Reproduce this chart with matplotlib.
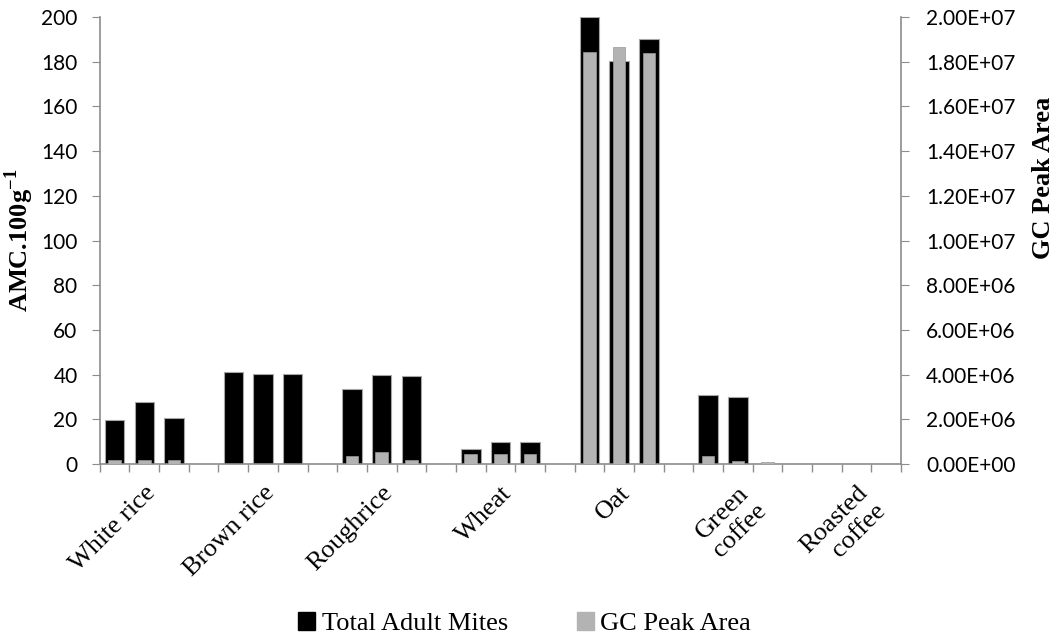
import numpy as np
import matplotlib
matplotlib.use("Agg")
import matplotlib.pyplot as plt
from matplotlib.patches import Patch

# categories and replicate values (3 per category)
categories = ["White rice", "Brown rice", "Roughrice", "Wheat", "Oat",
              "Green\ncoffee", "Roasted\ncoffee"]
adult_mites = [
    [19.5, 27.6, 20.4],
    [41.0, 40.2, 40.2],
    [33.5, 40.0, 39.2],
    [6.6, 9.8, 9.8],
    [199.8, 180.3, 190.0],
    [30.9, 30.1, 0.0],
    [0.0, 0.0, 0.0],
]
gc_peak = [
    [1.8e5, 1.8e5, 1.8e5],
    [0.0, 0.0, 0.0],
    [3.4e5, 5.2e5, 1.8e5],
    [4.3e5, 4.3e5, 4.3e5],
    [1.845e7, 1.867e7, 1.838e7],
    [3.4e5, 1.2e5, 1.0e5],
    [0.0, 0.0, 0.0],
]

serif = "Liberation Serif"
sans = "Lato"
axis_grey = "#8c8c8c"
plt.rcParams["mathtext.fontset"] = "custom"
plt.rcParams["mathtext.rm"] = "Liberation Serif:bold"

# slot positions: 3 bars + 1 gap per group
pos = []
for g in range(len(categories)):
    for r in range(3):
        pos.append(g * 4 + r)
pos = np.array(pos)
mites = np.array(adult_mites).ravel()
gc = np.array(gc_peak).ravel()

fig = plt.figure(figsize=(10.64, 6.4), dpi=100)
ax = fig.add_axes([0.0938, 0.275, 0.7530, 0.6984])
ax2 = ax.twinx()

ax.bar(pos, mites, width=0.66, color="black", edgecolor="#a6a6a6", linewidth=0.8)
ax2.bar(pos, gc, width=0.42, color="#b3b3b3", edgecolor="#9a9a9a", linewidth=0.5)

ax.set_xlim(-0.5, 26.5)
ax.set_ylim(0, 200)
ax2.set_ylim(0, 2e7)
ax.set_yticks(np.arange(0, 201, 20))
ax2.set_yticks(np.arange(0, 2.01e7, 2e6))
ax2.set_yticklabels(["{:.2E}".format(v) for v in np.arange(0, 2.01e7, 2e6)])

# category labels under middle bar, slot boundary ticks
ax.set_xticks([g * 4 + 1 for g in range(len(categories))])
ax.set_xticklabels(categories, rotation=45, ha="right", rotation_mode="anchor",
                   family=serif, fontsize=19, linespacing=1.15)
ax.set_xticks(np.arange(-0.5, 27, 1), minor=True)
ax.tick_params(axis="x", which="major", length=0, pad=13)
ax.tick_params(axis="x", which="minor", length=6, color=axis_grey, width=1)

for a in (ax, ax2):
    a.spines["top"].set_visible(False)
    for s in ("left", "right", "bottom"):
        a.spines[s].set_color(axis_grey)
        a.spines[s].set_linewidth(1.2)
ax.spines["right"].set_visible(False)
ax2.spines["left"].set_visible(False)
ax2.spines["bottom"].set_visible(False)

ax.tick_params(axis="y", length=6, color=axis_grey, labelsize=15, pad=10)
ax2.tick_params(axis="y", length=6, color=axis_grey, labelsize=15, pad=12)
for lab in ax.get_yticklabels() + ax2.get_yticklabels():
    lab.set_family(sans)

ax.set_ylabel(r"AMC.100g$^{\mathrm{-1}}$", family=serif, fontweight="bold", fontsize=19,
              labelpad=4)
ax2.set_ylabel("GC Peak Area", family=serif, fontweight="bold", fontsize=19,
               rotation=90)
ax2.yaxis.set_label_coords(1.163, 0.64)

handles = [Patch(facecolor="black", edgecolor="black"),
           Patch(facecolor="#b3b3b3", edgecolor="#b3b3b3")]
fig.legend(handles, ["Total Adult Mites", "GC Peak Area"], loc="lower center",
           bbox_to_anchor=(0.493, -0.03), ncol=2, frameon=False,
           prop={"family": serif, "size": 19}, handlelength=0.65, handleheight=0.65,
           handletextpad=0.25, columnspacing=2.6)

fig.savefig("out.png", dpi=100)
